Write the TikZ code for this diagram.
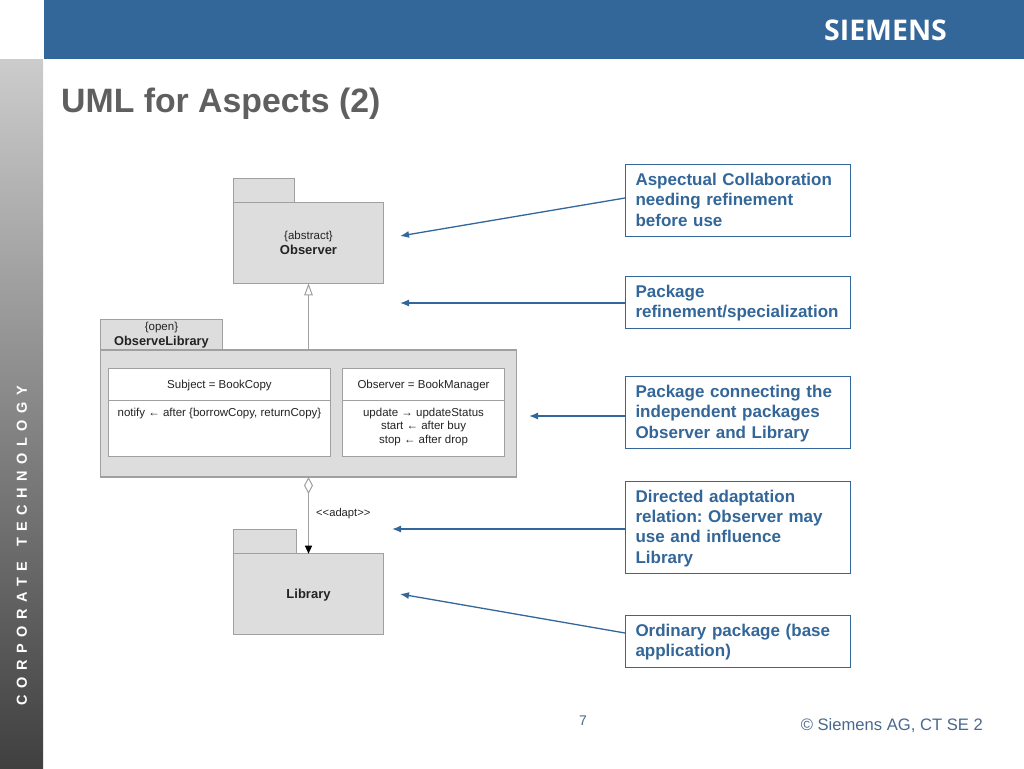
\documentclass[tikz,border=0pt]{standalone}
\usepackage{fontspec}
\setmainfont{Liberation Sans}
\newfontfamily\logofont{Open Sans}
\newfontfamily\sidefont[LetterSpace=45]{Liberation Sans}
\usetikzlibrary{arrows.meta,shapes.multipart}
\definecolor{slideblue}{RGB}{51,102,153}
\definecolor{footblue}{RGB}{72,104,142}
\definecolor{pkggray}{RGB}{221,221,221}
\definecolor{pkgline}{RGB}{160,160,160}
\definecolor{titlegray}{RGB}{95,95,95}
\definecolor{inktext}{RGB}{35,35,35}
\frenchspacing
\tikzset{
  pkg/.style={draw=pkgline,fill=pkggray,line width=1.2pt,anchor=north west,inner sep=0pt,outer sep=0pt,align=center,text=inktext},
  note/.style={draw=slideblue,line width=1pt,fill=white,anchor=north west,minimum width=225pt,text width=205pt,
    align=left,inner xsep=10pt,inner ysep=0pt,text=slideblue,font=\fontsize{17}{20.4}\selectfont\bfseries},
  role/.style={rectangle split,rectangle split parts=2,draw=pkgline,fill=white,line width=1.2pt,anchor=north west,
    inner sep=0pt,outer sep=0pt,text=inktext,font=\fontsize{11.5}{13.5}\selectfont},
  pointer/.style={draw=slideblue,line width=1.3pt,-{Latex[length=9pt,width=7pt]}},
  rel/.style={draw=pkgline,line width=1pt}
}
\begin{document}
\begin{tikzpicture}[x=1pt,y=-1pt]
  \useasboundingbox (0,0) rectangle (1024,768);

  % slide frame
  \fill[slideblue] (44,0) rectangle (1024,59);
  \shade[top color=black!20,middle color=black!40,bottom color=black!75] (0,59) rectangle (43,768);
  \node[text=white,font=\logofont\bfseries\fontsize{28.5}{28.5}\selectfont] (logo) at (885.5,30) {SIEMENS};
  \node[anchor=west,inner sep=0pt,text=titlegray,font=\fontsize{33.8}{34}\selectfont\bfseries] (title) at (61,104) {UML for Aspects (2)};
  \node[rotate=90,text=white,font=\sidefont\fontsize{14.5}{14.5}\selectfont\bfseries] (side) at (22,545.5)
    {CORPORATE\hspace{4pt} TECHNOLOGY};
  \node[text=footblue,font=\fontsize{14}{14}\selectfont] (page) at (583,721) {7};
  \node[anchor=east,inner sep=0pt,text=footblue,font=\fontsize{16.6}{16.6}\selectfont] (copy) at (983,725.5) {\textcopyright{} Siemens AG, CT SE 2};

  % packages
  \node[pkg,minimum width=61pt,minimum height=24pt] (obstab) at (233.5,178.3) {};
  \node[pkg,minimum width=150pt,minimum height=81pt,font=\fontsize{13}{14.5}\selectfont] (obs) at (233.5,202.3)
    {{\fontsize{11.5}{14.5}\selectfont\{abstract\}}\\\textbf{Observer}};
  \node[pkg,minimum width=122pt,minimum height=30.5pt,font=\fontsize{12.8}{15}\selectfont] (mixtab) at (100.5,319.5)
    {{\fontsize{11.5}{15}\selectfont\{open\}}\\\textbf{ObserveLibrary}};
  \node[pkg,minimum width=416pt,minimum height=127pt] (mix) at (100.5,350) {};
  \node[pkg,minimum width=63pt,minimum height=24pt] (libtab) at (233.5,529.5) {};
  \node[pkg,minimum width=150pt,minimum height=80.5pt,font=\fontsize{13}{15}\selectfont\bfseries] (lib) at (233.5,553.7) {\rule{0pt}{12.5pt}Library};

  % bindings
  \node[role] (subj) at (108.7,368.3)
    {\parbox[c][31pt][c]{221.6pt}{\centering\rule{0pt}{11pt}Subject = BookCopy}
     \nodepart{second}\parbox[t][55pt][t]{221.6pt}{\centering\rule{0pt}{15pt}notify ← after \{borrowCopy, returnCopy\}}};
  \node[role] (obsrole) at (342.7,368.3)
    {\parbox[c][31pt][c]{161.6pt}{\centering\rule{0pt}{11pt}Observer = BookManager}
     \nodepart{second}\parbox[t][55pt][t]{161.6pt}{\centering\rule{0pt}{15pt}update → updateStatus\\start ← after buy\\stop ← after drop}};

  % relations
  \draw[rel,-{Triangle[open,fill=white,length=12pt,width=8.5pt]}] (mix.north) -- (obs.south);
  \draw[rel,{Diamond[open,fill=white,length=17pt,width=9pt]}-{Triangle[length=8pt,width=7pt,black]}] (mix.south) -- (lib.north);
  \node[anchor=west,inner sep=0pt,text=inktext,font=\fontsize{11.2}{13}\selectfont] (adapt) at (316,514) {<{}<adapt>{}>};

  % callouts
  \foreach \n/\y/\h/\ty/\txt in {
      a/164/72/198/{Aspectual Collaboration\\needing refinement\\before use\rule[-2pt]{0pt}{2pt}},
      b/276/52/303/{\rule{0pt}{14pt}Package\\refinement/specialization},
      c/376/72/416/{\rule{0pt}{14pt}Package connecting the\\independent packages\\Observer and Library},
      d/481/92/529/{\rule{0pt}{14pt}Directed adaptation\\relation: Observer may\\use and influence\\Library},
      e/615/52/633/{\rule{0pt}{14pt}Ordinary package (base\\application)}}{
    \node[note,minimum height=\h pt] (note\n) at (625,\y) {\txt};
    \coordinate (from\n) at (625,\ty);
  }
  \coordinate (toa) at (400,236);
  \coordinate (tob) at (400,303);
  \coordinate (toc) at (529,416);
  \coordinate (tod) at (392,529);
  \coordinate (toe) at (400,594);
  \foreach \n in {a,b,c,d,e}{
    \draw[pointer] (from\n) -- (to\n);
  }
\end{tikzpicture}
\end{document}
